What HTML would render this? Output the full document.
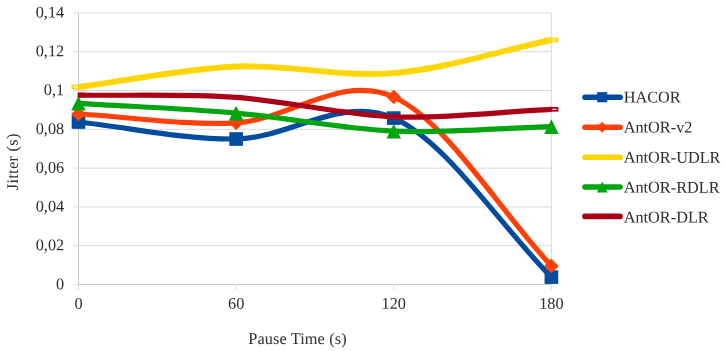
<!DOCTYPE html>
<html><head><meta charset="utf-8"><title>Jitter vs Pause Time</title>
<style>html,body{margin:0;padding:0;background:#fff}body{width:726px;height:351px;position:relative;overflow:hidden}.t{font-family:"Liberation Serif","Times New Roman",serif;font-size:16.3px;fill:#2e2e2e}</style>
</head><body>
<svg width="726" height="351" viewBox="0 0 726 351" style="display:block;position:absolute;left:0;top:0;will-change:transform;opacity:0.999">
<line x1="78.5" y1="245.70" x2="551.4" y2="245.70" stroke="#d9d9d9" stroke-width="1"/>
<line x1="78.5" y1="206.90" x2="551.4" y2="206.90" stroke="#d9d9d9" stroke-width="1"/>
<line x1="78.5" y1="168.10" x2="551.4" y2="168.10" stroke="#d9d9d9" stroke-width="1"/>
<line x1="78.5" y1="129.30" x2="551.4" y2="129.30" stroke="#d9d9d9" stroke-width="1"/>
<line x1="78.5" y1="90.50" x2="551.4" y2="90.50" stroke="#d9d9d9" stroke-width="1"/>
<line x1="78.5" y1="51.70" x2="551.4" y2="51.70" stroke="#d9d9d9" stroke-width="1"/>
<line x1="78.5" y1="12.90" x2="551.4" y2="12.90" stroke="#d9d9d9" stroke-width="1"/>
<line x1="551.4" y1="12.9" x2="551.4" y2="284.5" stroke="#d9d9d9" stroke-width="1"/>
<line x1="78.5" y1="12.9" x2="78.5" y2="289.5" stroke="#c6c6c6" stroke-width="1"/>
<line x1="74.0" y1="284.5" x2="551.4" y2="284.5" stroke="#c6c6c6" stroke-width="1"/>
<line x1="73.5" y1="284.50" x2="78.5" y2="284.50" stroke="#d9d9d9" stroke-width="1"/>
<line x1="73.5" y1="245.70" x2="78.5" y2="245.70" stroke="#d9d9d9" stroke-width="1"/>
<line x1="73.5" y1="206.90" x2="78.5" y2="206.90" stroke="#d9d9d9" stroke-width="1"/>
<line x1="73.5" y1="168.10" x2="78.5" y2="168.10" stroke="#d9d9d9" stroke-width="1"/>
<line x1="73.5" y1="129.30" x2="78.5" y2="129.30" stroke="#d9d9d9" stroke-width="1"/>
<line x1="73.5" y1="90.50" x2="78.5" y2="90.50" stroke="#d9d9d9" stroke-width="1"/>
<line x1="73.5" y1="51.70" x2="78.5" y2="51.70" stroke="#d9d9d9" stroke-width="1"/>
<line x1="73.5" y1="12.90" x2="78.5" y2="12.90" stroke="#d9d9d9" stroke-width="1"/>
<line x1="78.50" y1="284.5" x2="78.50" y2="289.5" stroke="#d9d9d9" stroke-width="1"/>
<line x1="236.13" y1="284.5" x2="236.13" y2="289.5" stroke="#d9d9d9" stroke-width="1"/>
<line x1="393.77" y1="284.5" x2="393.77" y2="289.5" stroke="#d9d9d9" stroke-width="1"/>
<line x1="551.40" y1="284.5" x2="551.40" y2="289.5" stroke="#d9d9d9" stroke-width="1"/>
<text x="64.2" y="289.15" transform="rotate(0.05 64.2 289.15)" text-anchor="end" class="t">0</text>
<text x="64.2" y="250.35" transform="rotate(0.05 64.2 250.35)" text-anchor="end" class="t">0,02</text>
<text x="64.2" y="211.55" transform="rotate(0.05 64.2 211.55)" text-anchor="end" class="t">0,04</text>
<text x="64.2" y="172.75" transform="rotate(0.05 64.2 172.75)" text-anchor="end" class="t">0,06</text>
<text x="64.2" y="133.95" transform="rotate(0.05 64.2 133.95)" text-anchor="end" class="t">0,08</text>
<text x="64.2" y="95.15" transform="rotate(0.05 64.2 95.15)" text-anchor="end" class="t">0,1</text>
<text x="64.2" y="56.35" transform="rotate(0.05 64.2 56.35)" text-anchor="end" class="t">0,12</text>
<text x="64.2" y="17.55" transform="rotate(0.05 64.2 17.55)" text-anchor="end" class="t">0,14</text>
<text x="78.50" y="308.8" transform="rotate(0.05 78.50 308.8)" text-anchor="middle" class="t">0</text>
<text x="236.13" y="308.8" transform="rotate(0.05 236.13 308.8)" text-anchor="middle" class="t">60</text>
<text x="393.77" y="308.8" transform="rotate(0.05 393.77 308.8)" text-anchor="middle" class="t">120</text>
<text x="551.40" y="308.8" transform="rotate(0.05 551.40 308.8)" text-anchor="middle" class="t">180</text>
<text x="248.2" y="343.9" transform="rotate(0.05 248.2 343.9)" textLength="98.4" lengthAdjust="spacing" class="t">Pause Time (s)</text>
<text transform="translate(17.9,190.2) rotate(-90.05)" textLength="56.6" lengthAdjust="spacing" class="t">Jitter (s)</text>
<path d="M78.50,122.00 C131.04,127.67 183.59,139.65 236.13,139.00 C288.68,138.35 341.22,95.08 393.77,118.10 C446.31,141.12 498.86,224.10 551.40,277.10" fill="none" stroke="#004c9f" stroke-width="5.2" stroke-linejoin="round"/>
<rect x="71.67" y="115.17" width="13.65" height="13.65" fill="#004c9f"/>
<rect x="229.31" y="132.18" width="13.65" height="13.65" fill="#004c9f"/>
<rect x="386.94" y="111.27" width="13.65" height="13.65" fill="#004c9f"/>
<rect x="544.57" y="270.28" width="13.65" height="13.65" fill="#004c9f"/>
<path d="M78.50,114.00 C131.04,116.93 183.59,125.63 236.13,122.80 C288.68,119.97 341.22,73.15 393.77,97.00 C446.31,120.85 498.86,209.60 551.40,265.90" fill="none" stroke="#ff4008" stroke-width="5.2" stroke-linejoin="round"/>
<polygon points="78.50,106.65 85.85,114.00 78.50,121.35 71.15,114.00" fill="#ff4008"/>
<polygon points="236.13,115.45 243.48,122.80 236.13,130.15 228.78,122.80" fill="#ff4008"/>
<polygon points="393.77,89.65 401.12,97.00 393.77,104.35 386.42,97.00" fill="#ff4008"/>
<polygon points="551.40,258.55 558.75,265.90 551.40,273.25 544.05,265.90" fill="#ff4008"/>
<path d="M78.50,87.00 C131.04,80.17 183.59,68.82 236.13,66.50 C288.68,64.18 341.22,77.52 393.77,73.10 C446.31,68.68 498.86,51.03 551.40,40.00" fill="none" stroke="#fdd705" stroke-width="5.9" stroke-linejoin="round"/>
<rect x="72.40" y="85.55" width="12.20" height="2.9" fill="none" stroke="#fdd705" stroke-width="1.8"/>
<rect x="230.03" y="65.05" width="12.20" height="2.9" fill="none" stroke="#fdd705" stroke-width="1.8"/>
<rect x="387.67" y="71.65" width="12.20" height="2.9" fill="none" stroke="#fdd705" stroke-width="1.8"/>
<rect x="545.30" y="38.55" width="12.20" height="2.9" fill="none" stroke="#fdd705" stroke-width="1.8"/>
<path d="M78.50,103.30 C131.04,106.57 183.59,108.47 236.13,113.10 C288.68,117.73 341.22,128.85 393.77,131.10 C446.31,133.35 498.86,128.10 551.40,126.60" fill="none" stroke="#00a510" stroke-width="5.2" stroke-linejoin="round"/>
<polygon points="78.50,96.02 85.78,110.58 71.22,110.58" fill="#00a510"/>
<polygon points="236.13,105.82 243.41,120.38 228.85,120.38" fill="#00a510"/>
<polygon points="393.77,123.82 401.05,138.38 386.49,138.38" fill="#00a510"/>
<polygon points="551.40,119.32 558.68,133.88 544.12,133.88" fill="#00a510"/>
<path d="M78.50,95.10 C131.04,95.87 183.59,93.78 236.13,97.40 C288.68,101.02 341.22,114.82 393.77,116.80 C446.31,118.78 498.86,111.80 551.40,109.30" fill="none" stroke="#ab0018" stroke-width="5.2" stroke-linejoin="round"/>
<rect x="78.50" y="93.65" width="6.10" height="2.9" fill="none" stroke="#ab0018" stroke-width="1.8"/>
<rect x="236.13" y="95.95" width="6.10" height="2.9" fill="none" stroke="#ab0018" stroke-width="1.8"/>
<rect x="393.77" y="115.35" width="6.10" height="2.9" fill="none" stroke="#ab0018" stroke-width="1.8"/>
<rect x="551.40" y="107.85" width="6.10" height="2.9" fill="none" stroke="#ab0018" stroke-width="1.8"/>
<line x1="585" y1="97.2" x2="620.1" y2="97.2" stroke="#004c9f" stroke-width="5.6" stroke-linecap="round"/>
<rect x="597.13" y="92.13" width="10.14" height="10.14" fill="#004c9f"/>
<text x="623.7" y="102.55" transform="rotate(0.05 623.7 102.55)" class="t">HACOR</text>
<line x1="585" y1="127.2" x2="620.1" y2="127.2" stroke="#ff4008" stroke-width="5.6" stroke-linecap="round"/>
<polygon points="602.20,121.74 607.66,127.20 602.20,132.66 596.74,127.20" fill="#ff4008"/>
<text x="623.7" y="132.55" transform="rotate(0.05 623.7 132.55)" class="t">AntOR-v2</text>
<line x1="585" y1="157.2" x2="620.1" y2="157.2" stroke="#fdd705" stroke-width="5.6" stroke-linecap="round"/>
<text x="623.7" y="162.60" transform="rotate(0.05 623.7 162.60)" class="t">AntOR-UDLR</text>
<line x1="585" y1="187" x2="620.1" y2="187" stroke="#00a510" stroke-width="5.6" stroke-linecap="round"/>
<polygon points="602.20,181.59 607.61,192.41 596.79,192.41" fill="#00a510"/>
<text x="623.7" y="192.60" transform="rotate(0.05 623.7 192.60)" class="t">AntOR-RDLR</text>
<line x1="585" y1="216.4" x2="620.1" y2="216.4" stroke="#ab0018" stroke-width="5.6" stroke-linecap="round"/>
<text x="623.7" y="222.50" transform="rotate(0.05 623.7 222.50)" class="t">AntOR-DLR</text>
</svg>
</body></html>
